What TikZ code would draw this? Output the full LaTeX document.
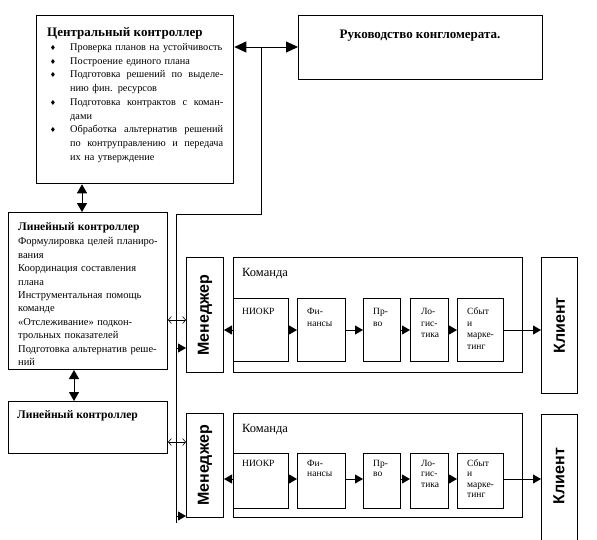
\documentclass[tikz,border=0pt]{standalone}
\usepackage{fontspec}
\setmainfont{Liberation Serif}
\newfontfamily\sansb{Liberation Sans}
\newfontfamily\dejavu{DejaVu Sans}
\usetikzlibrary{arrows.meta,calc}
\newcommand\mybul{\noindent\llap{{\dejavu\fontsize{7}{7}\selectfont ♦}\hspace{14pt}}}
\newcommand\jline[1]{\noindent\hbox to 153pt{\spaceskip=.25em plus 1fil\relax #1}\par}
\newcommand\lline[1]{\noindent\mbox{#1}\par}
\begin{document}
\begin{tikzpicture}[x=1pt,y=-1pt,
  box/.style={draw, line width=1pt, inner sep=0, anchor=north west},
  rot/.style={rotate=90, font=\sansb\bfseries\fontsize{16}{16}\selectfont},
  lbl/.style={anchor=base west, inner sep=0, text width=40pt, align=left, font=\fontsize{9.5}{11.5}\selectfont},
  con/.style={line width=0.9pt},
  tri/.style={con, -{Triangle[length=8pt,width=9pt]}},
  dtri/.style={con, {Triangle[length=9pt,width=10pt]}-{Triangle[length=9pt,width=10pt]}},
  btri/.style={con, {Triangle[length=12pt,width=11pt]}-{Triangle[length=12pt,width=11pt]}},
  barb/.style={line width=0.6pt, {Straight Barb[length=3pt,width=7pt]}-{Straight Barb[length=3pt,width=7pt]}}
]
\useasboundingbox (0,0) rectangle (597,539);

% ---- top boxes
\node[box, line width=1.3pt, minimum width=197pt, minimum height=168pt] (cc) at (36,15) {};
\node[box, minimum width=244pt, minimum height=64pt] (ruk) at (298,15) {};
\node[anchor=base, inner sep=0, font=\bfseries\fontsize{13}{13}\selectfont] (rukt) at (420,38) {Руководство конгломерата.};

\node[anchor=base west, inner sep=0, text width=176pt, align=left, font=\fontsize{10.3}{13.75}\selectfont] (cct) at (47,36.5)
{{\bfseries\fontsize{13}{14}\selectfont Центральный контроллер\par}
\leftskip=23pt
\mybul\lline{Проверка планов на устойчивость}
\mybul\lline{Построение единого плана}
\mybul\jline{Подготовка решений по выделе-}
\lline{нию фин. ресурсов}
\mybul\jline{Подготовка контрактов с коман-}
\lline{дами}
\mybul\jline{Обработка альтернатив решений}
\jline{по контруправлению и передача}
\lline{их на утверждение}};

% ---- linear controllers
\node[box, minimum width=159pt, minimum height=157pt] (lc1) at (8,212) {};
\node[anchor=base west, inner sep=0, text width=148pt, align=left, font=\fontsize{10.5}{13.4}\selectfont] (lc1t) at (18,230.5)
{{\bfseries\fontsize{11.6}{13}\selectfont Линейный контроллер}\\[1pt]
Формулировка целей планиро-\\
вания\\
Координация составления\\
плана\\
Инструментальная помощь\\
команде\\
«Отслеживание» подкон-\\
трольных показателей\\
Подготовка альтернатив реше-\\
ний};

\node[box, minimum width=159pt, minimum height=52pt] (lc2) at (8,401) {};
\node[anchor=base west, inner sep=0, font=\bfseries\fontsize{11.6}{13}\selectfont] (lc2t) at (17,418) {Линейный контроллер};

% ---- row 1
\node[box, minimum width=37pt, minimum height=115pt] (men1) at (186,257) {};
\node[rot] (men1t) at (men1.center) {Менеджер};
\node[box, minimum width=289pt, minimum height=115pt] (kom1) at (233,257) {};
\node[anchor=base west, inner sep=0, font=\fontsize{12.5}{13}\selectfont] (kom1t) at (242,276) {Команда};
\node[box, minimum width=55pt, minimum height=63pt] (ni1) at (233,298) {};
\node[box, minimum width=48pt, minimum height=63pt] (fi1) at (297,298) {};
\node[box, minimum width=37pt, minimum height=63pt] (pr1) at (363,298) {};
\node[box, minimum width=38pt, minimum height=63pt] (lo1) at (410,298) {};
\node[box, minimum width=46pt, minimum height=63pt] (sb1) at (457,298) {};
\node[box, minimum width=36pt, minimum height=136pt] (kl1) at (541,257) {};
\node[rot] (kl1t) at (kl1.center) {Клиент};
\node[lbl] (ni1t) at (242,314.5) {НИОКР};
\node[lbl] (fi1t) at (307,314.5) {Фи-\\нансы};
\node[lbl] (pr1t) at (373,314.5) {Пр-\\во};
\node[lbl] (lo1t) at (421,314.5) {Ло-\\гис-\\тика};
\node[lbl] (sb1t) at (467,314.5) {Сбыт\\и\\марке-\\тинг};

% ---- row 2
\node[box, minimum width=37pt, minimum height=104pt] (men2) at (186,413) {};
\node[rot] (men2t) at (men2.center) {Менеджер};
\node[box, minimum width=289pt, minimum height=104pt] (kom2) at (233,413) {};
\node[anchor=base west, inner sep=0, font=\fontsize{12.5}{13}\selectfont] (kom2t) at (242,432) {Команда};
\node[box, minimum width=55pt, minimum height=55pt] (ni2) at (233,453) {};
\node[box, minimum width=48pt, minimum height=55pt] (fi2) at (297,453) {};
\node[box, minimum width=37pt, minimum height=55pt] (pr2) at (363,453) {};
\node[box, minimum width=38pt, minimum height=55pt] (lo2) at (410,453) {};
\node[box, minimum width=46pt, minimum height=55pt] (sb2) at (457,453) {};
\node[box, minimum width=36pt, minimum height=140pt] (kl2) at (541,414) {};
\node[rot] (kl2t) at (541+18,476) {Клиент};
\node[lbl] (ni2t) at (242,466) {НИОКР};
\node[lbl, font=\fontsize{9.5}{10.5}\selectfont] (fi2t) at (307,466) {Фи-\\нансы};
\node[lbl, font=\fontsize{9.5}{10.5}\selectfont] (pr2t) at (373,466) {Пр-\\во};
\node[lbl, font=\fontsize{9.5}{10.5}\selectfont] (lo2t) at (421,466) {Ло-\\гис-\\тика};
\node[lbl, font=\fontsize{9.5}{10.5}\selectfont] (sb2t) at (467,466) {Сбыт\\и\\марке-\\тинг};

% ---- helper coordinates
\coordinate (ytop) at (0,47);
\coordinate (j1) at (261,47);
\coordinate (j2) at (261,214);
\coordinate (j3) at (176,214);
\coordinate (j4) at (176,523);
\coordinate (j5) at (176,348);
\coordinate (j6) at (176,516);
\coordinate (x82) at (82,0);
\coordinate (x74) at (74,0);
\coordinate (yd1) at (0,320);
\coordinate (yd2) at (0,442);
\coordinate (yc1) at (0,330);
\coordinate (yc2) at (0,479);

% ---- connectors
\draw[btri] (cc.east |- ytop) -- (ruk.west |- ytop);
\draw[con] (j1) -- (j2) -- (j3) -- (j4);
\draw[tri] (j5) -- (j5 -| men1.west);
\draw[tri] (j6) -- (j6 -| men2.west);
\draw[dtri] (cc.south -| x82) -- (lc1.north -| x82);
\draw[dtri] (lc1.south -| x74) -- (lc2.north -| x74);
\draw[barb] (lc1.east |- yd1) -- (men1.west |- yd1);
\draw[barb] (lc2.east |- yd2) -- (men2.west |- yd2);

\draw[tri] (ni1.west |- yc1) -- (men1.east |- yc1);
\draw[tri] (ni1.east |- yc1) -- (fi1.west |- yc1);
\draw[tri] (fi1.east |- yc1) -- (pr1.west |- yc1);
\draw[tri] (pr1.east |- yc1) -- (lo1.west |- yc1);
\draw[tri] (lo1.east |- yc1) -- (sb1.west |- yc1);
\draw[tri] (sb1.east |- yc1) -- (kl1.west |- yc1);

\draw[tri] (ni2.west |- yc2) -- (men2.east |- yc2);
\draw[tri] (ni2.east |- yc2) -- (fi2.west |- yc2);
\draw[tri] (fi2.east |- yc2) -- (pr2.west |- yc2);
\draw[tri] (pr2.east |- yc2) -- (lo2.west |- yc2);
\draw[tri] (lo2.east |- yc2) -- (sb2.west |- yc2);
\draw[tri] (sb2.east |- yc2) -- (kl2.west |- yc2);
\end{tikzpicture}
\end{document}
